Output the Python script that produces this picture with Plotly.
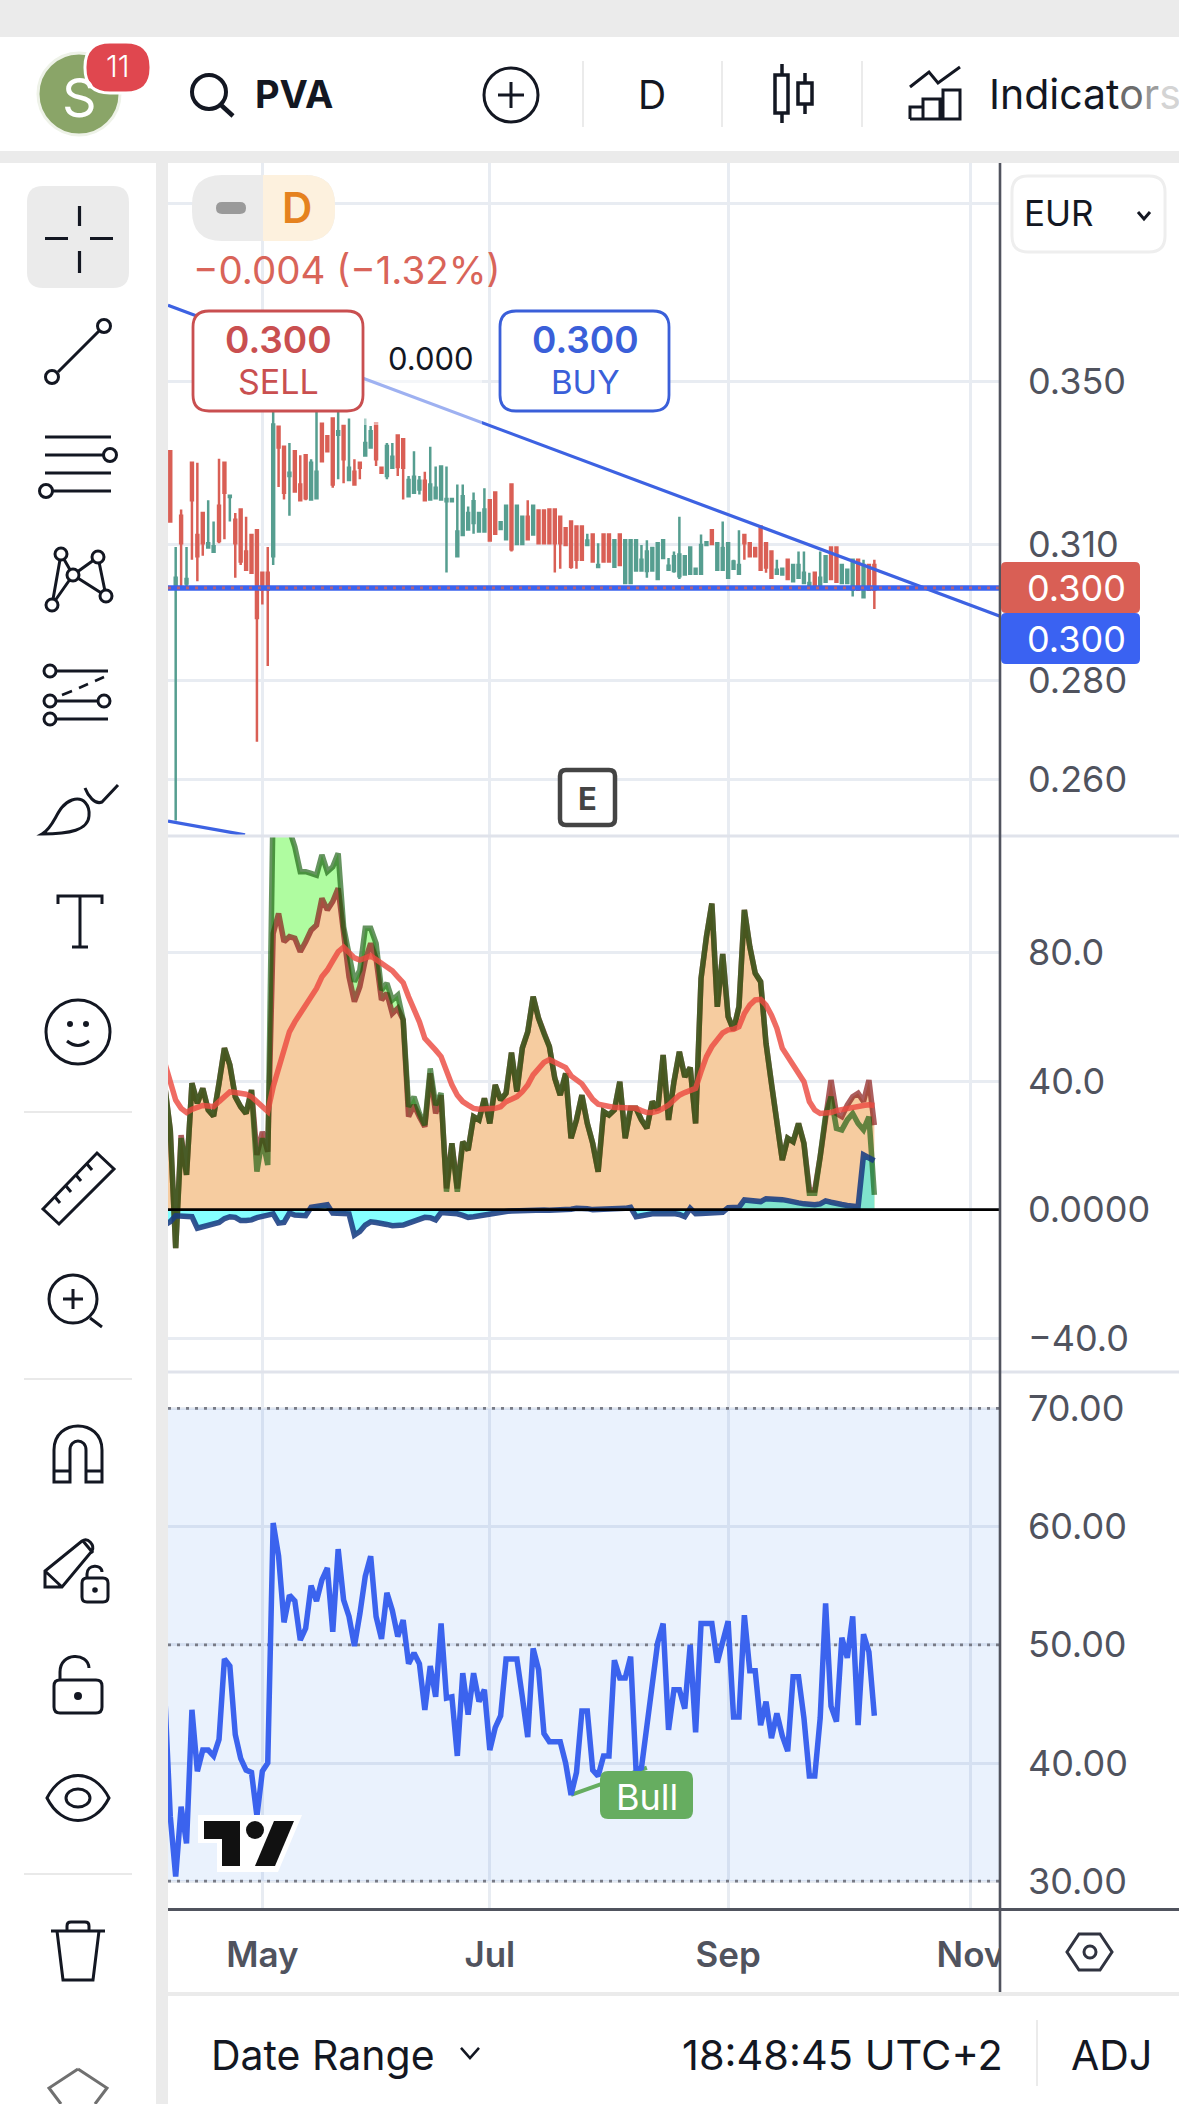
import math
import re
import plotly.graph_objects as go

W, H = 1179, 2104
FONT = "Inter"
INK = "#131722"
AXIS_TXT = "#50535e"
GRID = "#e8ecf2"
BLUE = "#3b63ee"
RED = "#d95f55"
TEAL = "#569e90"

# ---- daily candles, bar 0 .. 130
opens = [
    .3323,.3000,.3166,.3010,.3294,.3121,.3173,.3092,.3082,.3190,
    .3294,.3211,.3157,.3181,.3083,.3121,.3132,.3034,.3034,.3072,
    .3384,.3334,.3262,.3323,.3241,.3313,.3205,.3208,.3392,.3360,
    .3405,.3364,.3386,.3252,.3272,.3294,.3312,.3332,.3393,.3282,
    .3262,.3282,.3362,.3353,.3213,.3221,.3229,.3250,.3205,.3208,
    .3205,.3201,.3201,.3072,.3121,.3134,.3149,.3129,.3129,.3203,
    .3222,.3135,.3111,.3241,.3100,.3100,.3164,.3122,.3179,.3179,
    .3181,.3181,.3164,.3137,.3153,.3141,.3141,.3098,.3122,.3047,
    .3122,.3122,.3048,.3122,.3011,.3011,.3039,.3039,.3038,.3039,
    .3020,.3068,.3041,.3038,.3026,.3030,.3032,.3032,.3032,.3098,
    .3132,.3041,.3041,.3023,.3043,.3032,.3121,.3102,.3091,.3141,
    .3102,.3083,.3032,.3030,.3064,.3015,.3023,.3011,.3000,.3034,
    .3000,.3014,.3092,.3092,.3011,.3011,.2996,.3064,.2979,.3052,.3052]
highs = [
    .3323,.3093,.3181,.3093,.3294,.3294,.3173,.3203,.3153,.3304,
    .3294,.3214,.3173,.3181,.3164,.3121,.3132,.3034,.3093,.3424,
    .3384,.3334,.3343,.3323,.3313,.3313,.3303,.3424,.3392,.3360,
    .3405,.3424,.3386,.3405,.3303,.3294,.3405,.3386,.3393,.3282,
    .3343,.3343,.3362,.3353,.3262,.3323,.3262,.3272,.3334,.3285,
    .3285,.3285,.3208,.3241,.3241,.3188,.3222,.3173,.3232,.3203,
    .3222,.3153,.3190,.3241,.3190,.3164,.3203,.3192,.3181,.3181,
    .3181,.3181,.3164,.3137,.3153,.3141,.3141,.3124,.3122,.3102,
    .3122,.3122,.3109,.3122,.3109,.3109,.3109,.3098,.3109,.3091,
    .3102,.3109,.3068,.3083,.3164,.3072,.3092,.3043,.3122,.3104,
    .3132,.3102,.3153,.3102,.3064,.3132,.3121,.3102,.3091,.3141,
    .3102,.3083,.3064,.3043,.3064,.3052,.3083,.3083,.3034,.3034,
    .3083,.3072,.3092,.3092,.3052,.3041,.3064,.3064,.3064,.3052,.3064]
lows = [
    .3153,.2521,.3000,.3000,.3064,.3015,.3073,.3092,.3082,.3102,
    .3111,.3153,.3023,.3052,.3041,.3034,.2674,.2963,.2830,.3052,
    .3235,.3205,.3166,.3224,.3203,.3203,.3205,.3205,.3298,.3323,
    .3233,.3254,.3244,.3252,.3241,.3254,.3312,.3332,.3286,.3270,
    .3254,.3282,.3262,.3205,.3213,.3221,.3217,.3203,.3205,.3208,
    .3205,.3035,.3201,.3072,.3121,.3134,.3124,.3129,.3129,.3108,
    .3124,.3135,.3111,.3083,.3100,.3100,.3111,.3122,.3102,.3102,
    .3102,.3035,.3043,.3098,.3043,.3043,.3064,.3098,.3060,.3047,
    .3060,.3060,.3048,.3052,.3011,.3011,.3039,.3039,.3023,.3039,
    .3020,.3068,.3041,.3034,.3020,.3030,.3032,.3032,.3032,.3098,
    .3100,.3041,.3041,.3023,.3043,.3032,.3064,.3072,.3072,.3041,
    .3034,.3023,.3032,.3030,.3020,.3015,.3023,.3011,.2996,.3000,
    .3000,.3014,.3020,.3014,.3011,.3011,.2981,.2996,.2979,.2996,.2953]
closes = [
    .3153,.3023,.3102,.3020,.3203,.3072,.3102,.3102,.3095,.3107,
    .3221,.3214,.3102,.3060,.3041,.3034,.2933,.2996,.2996,.3390,
    .3332,.3221,.3270,.3224,.3203,.3208,.3294,.3272,.3298,.3323,
    .3241,.3373,.3303,.3282,.3241,.3282,.3343,.3373,.3303,.3270,
    .3336,.3309,.3284,.3282,.3252,.3260,.3250,.3203,.3241,.3233,
    .3285,.3206,.3206,.3129,.3213,.3173,.3201,.3173,.3181,.3108,
    .3124,.3151,.3190,.3088,.3190,.3164,.3111,.3190,.3102,.3102,
    .3102,.3102,.3102,.3098,.3048,.3064,.3064,.3108,.3060,.3052,
    .3060,.3060,.3109,.3052,.3109,.3109,.3109,.3064,.3083,.3091,
    .3102,.3109,.3050,.3072,.3076,.3072,.3092,.3043,.3098,.3104,
    .3100,.3102,.3091,.3102,.3060,.3052,.3102,.3072,.3072,.3041,
    .3046,.3023,.3041,.3043,.3020,.3052,.3052,.3034,.3011,.3000,
    .3023,.3072,.3020,.3014,.3052,.3041,.3064,.2996,.3052,.2996,.2996]
assert len(opens) == len(highs) == len(lows) == len(closes) == 131

# ---- oscillator pane, bar -1 .. 130
upper_osc = [
    38.2,24.8,-12.0,22.2,10.8,39.3,33.1,37.7,31.0,29.1,39.3,50.2,45.0,35.1,32.0,29.9,37.2,11.8,22.2,13.9,
    128.4,124.2,121.1,118.0,112.8,105.1,105.1,104.6,104.0,110.3,105.1,106.6,110.8,88.0,78.7,70.9,74.5,87.5,87.5,82.8,
    68.3,70.4,65.2,66.7,59.0,32.0,35.1,29.9,26.3,43.9,32.5,36.2,5.6,20.6,5.6,21.1,18.5,28.9,27.9,34.6,
    26.8,38.8,34.1,36.2,48.8,36.7,50.2,55.3,66.2,59.5,54.8,50.7,40.8,35.6,42.4,22.2,27.9,35.6,26.8,20.6,
    11.8,30.5,29.4,31.0,39.8,22.2,31.5,31.5,27.9,25.3,33.6,31.0,48.1,27.9,39.8,49.1,41.3,44.2,26.8,71.9,
    84.9,95.2,63.1,79.5,60.0,55.9,63.1,93.2,81.8,73.5,70.9,51.7,39.3,26.8,15.4,22.2,21.1,26.8,20.6,5.1,
    5.1,16.5,29.4,35.1,25.3,24.8,27.9,29.9,26.8,24.8,28.9,4.6]
lower_osc = [
    38.2,24.8,-12.0,23.2,10.8,39.3,33.1,37.7,31.0,29.1,39.3,50.2,45.0,35.1,32.0,29.9,37.2,17.0,24.2,18.0,
    85.9,92.1,83.3,84.9,84.4,80.2,83.3,86.9,88.5,96.8,93.2,95.8,99.9,86.9,72.4,64.7,69.3,77.6,82.8,78.1,
    65.2,67.3,61.0,62.6,59.0,28.9,32.5,28.9,25.8,42.4,29.9,35.6,6.6,20.6,6.6,21.1,18.5,28.9,27.9,34.6,
    26.8,38.8,34.1,36.2,48.8,36.7,50.2,55.3,66.2,59.5,54.8,50.7,40.8,35.6,42.4,22.2,27.9,35.6,26.8,20.6,
    11.8,30.5,29.4,31.0,39.8,22.2,31.5,31.5,27.9,25.3,33.6,31.0,48.1,27.9,39.8,49.1,41.3,44.2,26.8,71.9,
    84.9,95.2,63.1,79.5,60.0,55.9,63.1,93.2,81.8,73.5,70.9,51.7,39.3,26.8,15.4,22.2,21.1,26.8,20.6,6.1,
    6.1,16.5,29.9,40.3,29.9,28.9,32.5,35.1,36.2,33.6,40.3,26.3]
smooth_osc = [
    45.5,39.3,34.1,31.5,30.2,31.2,31.8,32.4,32.2,32.0,33.6,35.4,36.6,36.4,36.2,35.9,35.1,33.6,31.8,30.5,
    38.2,43.9,48.6,55.3,58.4,61.0,63.6,65.7,68.8,72.4,74.5,77.4,80.2,81.6,79.7,78.3,77.6,78.4,78.9,77.8,
    76.8,75.5,74.3,72.4,70.6,66.2,62.6,58.4,53.3,51.7,49.6,47.6,42.9,38.8,35.6,33.6,32.5,31.5,31.2,31.2,
    31.2,31.5,32.0,33.6,34.3,35.1,36.7,38.8,41.9,43.9,45.8,46.7,45.8,45.0,44.2,41.6,40.1,39.1,36.7,34.3,
    32.8,32.4,32.0,31.8,31.8,31.6,31.6,31.5,30.8,30.2,30.2,30.6,31.5,32.5,34.1,35.6,36.4,37.0,37.7,42.9,
    47.6,50.7,52.7,55.0,55.9,56.1,56.9,61.0,63.6,65.2,65.4,63.6,60.5,56.4,50.2,47.4,45.0,42.4,39.8,33.6,
    31.0,29.9,29.9,30.2,30.8,31.2,31.5,31.8,32.1,32.4,32.6,32.4]
momentum = [
    -4.8,-3.7,-1.9,-2.0,-2.2,-2.2,-5.8,-5.3,-4.9,-4.5,-4.0,-2.8,-2.2,-2.4,-3.4,-3.4,-3.2,-2.5,-1.9,-1.7,
    -1.3,-4.2,-4.0,-1.1,-1.7,-2.0,-1.9,0.7,1.1,1.5,1.5,-1.1,-1.1,-1.1,-1.3,-7.9,-6.8,-4.8,-3.8,-4.0,
    -4.5,-4.6,-5.0,-5.1,-4.8,-4.2,-3.7,-3.0,-2.4,-2.5,-3.2,-0.9,-1.0,-1.1,-1.3,-1.8,-2.4,-2.2,-1.9,-1.5,
    -1.1,-0.9,-0.8,-0.6,-0.4,-0.3,-0.2,-0.1,-0.1,-0.1,-0.1,-0.2,-0.2,-0.2,-0.1,0.1,0.4,0.5,0.3,0.0,
    0.0,0.0,0.0,0.0,0.3,0.4,0.7,-2.2,-1.9,-1.5,-1.3,-1.3,-1.2,-1.1,-1.2,-1.5,-2.2,0.4,-1.3,-1.2,
    -1.1,-1.0,-0.9,-0.8,0.6,0.6,0.7,3.0,2.7,2.4,2.5,3.4,3.4,3.5,3.1,2.8,2.3,2.1,1.8,1.6,
    1.5,1.8,2.7,2.3,1.8,1.6,1.3,1.0,0.9,17.0,16.3,15.2]

# ---- RSI pane, bar -1 .. 130
rsi = [
    45.6,35.5,30.4,36.3,33.2,44.5,39.3,41.1,41.1,40.6,42.0,48.8,48.2,42.4,40.4,39.4,39.2,35.5,39.3,40.0,
    60.3,57.5,51.9,54.2,53.7,50.4,51.4,55.0,53.7,55.5,56.5,51.1,58.1,53.8,52.4,49.9,52.6,55.8,57.5,52.4,
    50.5,54.4,52.9,50.7,52.1,48.4,49.3,48.4,44.5,48.2,45.6,51.8,45.5,45.6,40.6,47.6,44.1,47.6,45.2,46.2,
    41.1,43.0,44.0,48.8,48.8,48.8,45.6,42.2,49.7,47.9,42.5,41.8,41.8,41.8,40.0,37.3,39.2,44.4,44.4,39.4,
    38.9,40.6,40.6,48.7,47.2,47.2,49.0,39.4,39.6,43.1,46.9,50.2,51.8,42.8,46.2,46.2,44.6,50.0,42.6,51.8,
    51.8,51.8,48.5,50.2,52.0,43.9,43.9,52.5,47.8,47.8,43.2,45.2,42.1,44.2,42.3,41.0,47.3,47.3,43.8,38.9,
    38.9,43.8,53.5,44.8,43.5,50.6,48.9,52.4,43.2,50.9,49.4,44.0]

# ---- drawn levels and axis labels
bar_index = list(range(len(opens)))
osc_index = list(range(-1, len(upper_osc) - 1))
rsi_index = list(range(-1, len(rsi) - 1))
assert len(upper_osc) == len(lower_osc) == len(smooth_osc) == len(momentum) == len(rsi) == 132

last_price = 0.300
trend_prices = [0.3706, 0.2937]
support_prices = [0.2520, 0.2494]
divergence_bars = [74, 88]
divergence_rsi = [37.3, 39.6]
price_ticks = [0.400, 0.350, 0.310, 0.280, 0.260]
price_labels = ["", "0.350", "0.310", "0.280", "0.260"]
osc_ticks = [80, 40, 0, -40]
osc_labels = ["80.0", "40.0", "0.0000", "\u221240.0"]
rsi_ticks = [70, 60, 50, 40, 30]
rsi_labels = ["70.00", "60.00", "50.00", "40.00", "30.00"]
month_ticks = [17, 59, 103, 147.75]
month_labels = ["May", "Jul", "Sep", "Nov"]

X_RANGE = [-0.42, 153.2]


def X(x):
    return x / W


def Y(y):
    return 1 - y / H


def path(d):
    """Convert an SVG path in page pixels into figure coordinates."""
    parts = re.findall(r"[MLCQZ]|-?\d+\.?\d*", d)
    out, pair = [], []
    for p in parts:
        if p in "MLCQZ":
            out.append(p)
        else:
            pair.append(float(p))
            if len(pair) == 2:
                out.append(f"{X(pair[0]):.5f},{Y(pair[1]):.5f}")
                pair = []
    return " ".join(out)


shapes, notes = [], []


def area(x0, y0, x1, y1, color, layer="above"):
    shapes.append(dict(type="rect", xref="paper", yref="paper", x0=X(x0), x1=X(x1),
                       y0=Y(y0), y1=Y(y1), fillcolor=color, line_width=0, layer=layer))


def rrect(x0, y0, x1, y1, r, fill="rgba(0,0,0,0)", line=None, lw=0, layer="above"):
    d = (f"M{x0+r} {y0} L{x1-r} {y0} Q{x1} {y0} {x1} {y0+r} L{x1} {y1-r} Q{x1} {y1} {x1-r} {y1} "
         f"L{x0+r} {y1} Q{x0} {y1} {x0} {y1-r} L{x0} {y0+r} Q{x0} {y0} {x0+r} {y0} Z")
    shapes.append(dict(type="path", xref="paper", yref="paper", path=path(d), fillcolor=fill,
                       line=dict(color=line or "rgba(0,0,0,0)", width=lw), layer=layer))


def stroke(d, width=3, color=INK, fill="rgba(0,0,0,0)"):
    shapes.append(dict(type="path", xref="paper", yref="paper", path=path(d), fillcolor=fill,
                       line=dict(color=color, width=width), layer="above"))


def ring(cx, cy, r, width=3, color=INK, fill="rgba(0,0,0,0)", ry=None):
    ry = ry or r
    shapes.append(dict(type="circle", xref="paper", yref="paper", x0=X(cx-r), x1=X(cx+r),
                       y0=Y(cy-ry), y1=Y(cy+ry), fillcolor=fill,
                       line=dict(color=color, width=width), layer="above"))


def label(x, y, text, size, color=INK, anchor="center", weight=400):
    notes.append(dict(x=X(x), y=Y(y), xref="paper", yref="paper", text=text, showarrow=False,
                      xanchor=anchor, yanchor="middle",
                      font=dict(family=FONT, size=size, color=color, weight=weight)))


# ---- page frame
area(0, 37, W, 151, "white", "below")
area(0, 163, 156, H, "white", "below")
area(168, 163, W, H, "white", "below")

# ---- chart traces
fig = go.Figure()
fig.add_trace(go.Candlestick(
    x=bar_index, open=opens, high=highs, low=lows, close=closes,
    increasing=dict(line=dict(color=TEAL, width=2.5), fillcolor=TEAL),
    decreasing=dict(line=dict(color=RED, width=2.5), fillcolor=RED),
    xaxis="x", yaxis="y", showlegend=False))
for prices, xs in ((trend_prices, X_RANGE), (support_prices, [-0.42, 13.8])):
    fig.add_trace(go.Scatter(x=xs, y=prices, mode="lines", xaxis="x", yaxis="y",
                             line=dict(color="#3d62e2", width=3.2)))
fig.add_trace(go.Scatter(x=X_RANGE, y=[last_price, last_price], mode="lines", xaxis="x", yaxis="y",
                         line=dict(color=BLUE, width=5.5)))
fig.add_trace(go.Scatter(x=X_RANGE, y=[last_price, last_price], mode="lines", xaxis="x", yaxis="y",
                         line=dict(color="rgba(222,95,85,0.75)", width=2.8, dash="3px,6px")))

fig.add_trace(go.Scatter(x=osc_index, y=upper_osc, mode="none", fill="tozeroy",
                         fillcolor="rgb(175,252,160)", xaxis="x", yaxis="y2"))
fig.add_trace(go.Scatter(x=osc_index, y=lower_osc, mode="none", fill="tozeroy",
                         fillcolor="rgb(246,204,160)", xaxis="x", yaxis="y2"))
fig.add_trace(go.Scatter(x=osc_index, y=momentum, mode="none", fill="tozeroy",
                         fillcolor="rgba(0,255,255,0.48)", xaxis="x", yaxis="y2"))
fig.add_trace(go.Scatter(x=osc_index, y=lower_osc, mode="lines", xaxis="x", yaxis="y2",
                         line=dict(color="rgba(135,26,26,0.7)", width=5.5)))
fig.add_trace(go.Scatter(x=osc_index, y=upper_osc, mode="lines", xaxis="x", yaxis="y2",
                         line=dict(color="rgba(20,90,10,0.65)", width=5.5)))
fig.add_trace(go.Scatter(x=osc_index, y=smooth_osc, mode="lines", xaxis="x", yaxis="y2",
                         line=dict(color="rgba(235,75,65,0.82)", width=5.5)))
fig.add_trace(go.Scatter(x=osc_index, y=momentum, mode="lines", xaxis="x", yaxis="y2",
                         line=dict(color="rgba(25,60,130,0.88)", width=5.5)))
fig.add_trace(go.Scatter(x=X_RANGE, y=[0, 0], mode="lines", xaxis="x", yaxis="y2",
                         line=dict(color="black", width=2.8)))

fig.add_trace(go.Scatter(x=divergence_bars, y=divergence_rsi, mode="lines", xaxis="x", yaxis="y3",
                         line=dict(color="#66ad60", width=4)))
fig.add_trace(go.Scatter(x=rsi_index, y=rsi, mode="lines", xaxis="x", yaxis="y3",
                         line=dict(color=BLUE, width=5.5)))

# RSI band and its dotted limits
shapes.append(dict(type="rect", xref="x", yref="y3", x0=X_RANGE[0], x1=X_RANGE[1], y0=30, y1=70,
                   fillcolor="rgba(20,110,230,0.09)", line_width=0, layer="between"))
for level in (70, 50, 30):
    shapes.append(dict(type="line", xref="x", yref="y3", x0=X_RANGE[0], x1=X_RANGE[1], y0=level, y1=level,
                       line=dict(color="#787b86", width=2.8, dash="3px,6px"), layer="between"))

# button backing that hides grid lines behind the order buttons
area(363, 311, 680, 411, "white", "between")

# pane dividers and scale frame
area(168, 834.5, W, 837.5, "#e0e3eb")
area(168, 1370.5, W, 1373.5, "#e0e3eb")
area(1000.5, 1909, W, 1992, "white")
area(168, 1908, W, 1911, "#50535e")
area(998.7, 163, 1001.3, 1992, "#50535e")
area(168, 1992, W, 1996, "#ebebeb")

# price tags
rrect(1001, 562, 1140, 613, 5, fill=RED)
rrect(1001, 613, 1140, 664, 5, fill="#3a62f2")
label(1076, 588, "0.300", 36, "white")
label(1076, 639, "0.300", 36, "white")

# pale cover where the trend line fades beside the button
area(363, 372, 482, 425, "rgba(255,255,255,0.5)")

# legend chip and change readout
rrect(192, 175, 335, 241, 30, fill="#ebebeb")
d = "M263 175 L305 175 Q335 175 335 205 L335 211 Q335 241 305 241 L263 241 Z"
shapes.append(dict(type="path", xref="paper", yref="paper", path=path(d), fillcolor="#fdf1de",
                   line=dict(color="rgba(0,0,0,0)", width=0), layer="above"))
rrect(216, 202, 246, 214, 6, fill="#9a9a9a")
label(297, 208, "D", 42, "#e5821f", weight=600)
label(191, 270, "\u22120.004 (\u22121.32%)", 38.5, "#d96459", anchor="left")

# order buttons
rrect(193, 311, 363, 411, 16, fill="white", line="#c94f50", lw=2.8)
rrect(500, 311, 669, 411, 16, fill="white", line="#3a5fd9", lw=2.8)
label(278, 339, "0.300", 37, "#c94f50", weight=600)
label(278, 382, "SELL", 34, "#c94f50")
label(585, 339, "0.300", 37, "#3a5fd9", weight=600)
label(585, 382, "BUY", 33, "#3a5fd9")
label(431, 359, "0.000", 31, "#131722")

# currency selector
rrect(1012, 176, 1165, 252, 16, fill="white", line="#eeeeee", lw=3)
label(1059, 213, "EUR", 35)
stroke("M1138 212 L1144 219 L1150 212", 3)

# earnings marker
rrect(560, 770, 615, 825, 6, fill="white", line="#444444", lw=4.5)
label(587, 798, "E", 31, "#444444", weight=700)

# exchange mark on the RSI pane
shapes.append(dict(type="path", xref="paper", yref="paper",
                   path=path("M198 1815 L302 1815 L278 1872 L217 1872 L217 1843 L198 1843 Z"),
                   fillcolor="white", line_width=0, layer="above"))
shapes.append(dict(type="path", xref="paper", yref="paper",
                   path=path("M204 1821 L240 1821 L240 1866 L222 1866 L222 1839 L204 1839 Z"),
                   fillcolor="#111111", line_width=0, layer="above"))
shapes.append(dict(type="path", xref="paper", yref="paper",
                   path=path("M294 1821 L275 1866 L255 1866 L274 1821 Z"),
                   fillcolor="#111111", line_width=0, layer="above"))
ring(255, 1830, 9, 0, "#111111", "#111111")

# divergence tag
rrect(600, 1771, 693, 1819, 8, fill="#66ad60")
label(647, 1797, "Bull", 36, "white")

# bottom-right scale settings
stroke("M1079 1934 L1100 1934 L1112 1952 L1100 1970 L1079 1970 L1067 1952 Z", 3, "#303340")
ring(1090, 1952, 6, 3, "#303340")

# top bar
ring(79, 94, 41, 3, "#eef2e8", "#8aa568")
label(79, 97, "S", 54, "white", weight=400)
rrect(85, 42, 151, 93, 25, fill="#e0474f", line="white", lw=3)
label(118, 66, "11", 30, "white", weight=300)
ring(209, 92, 17, 4)
stroke("M221 105 L233 116", 4.5)
label(253, 94, "PVA", 38, INK, anchor="left", weight=700)
ring(511, 95, 27, 3)
stroke("M511 82 L511 108 M498 95 L524 95", 3)
label(652, 94, "D", 39)
for sx in (583, 722, 862):
    area(sx - 1, 61, sx + 1, 127, "#ebebeb")
stroke("M782 64 L782 75 M782 113 L782 123 M805 73 L805 83 M805 104 L805 114", 3.5)
stroke("M775 75 L788 75 L788 113 L775 113 Z", 3.5)
stroke("M798 83 L812 83 L812 104 L798 104 Z", 3.5)
stroke("M910 87 L929 72 L938 83 L960 67", 3)
stroke("M910 119 L960 119 L960 90 L943 90 L943 119 M940 119 L940 99 L923 99 L923 119 M910 119 L910 107 L923 107", 3)
notes.append(dict(x=X(987), y=Y(94), xref="paper", yref="paper", showarrow=False, xanchor="left", yanchor="middle",
                  text="Indicat<span style='color:#6c6c6c'>o</span><span style='color:#9c9c9c'>r</span>"
                       "<span style='color:#d4d4d4'>s</span>",
                  font=dict(family=FONT, size=41, color=INK)))

# drawing tools, top group
rrect(27, 186, 129, 288, 16, fill="#ebebeb")
stroke("M45 238.5 L68 238.5 M90 238.5 L113 238.5 M79.5 206 L79.5 226 M79.5 251 L79.5 273", 3.2)
stroke("M58 372 L99 331", 3)
ring(52, 377, 6.5, 3)
ring(104, 326, 6.5, 3)
stroke("M45 437 L111 437 M45 455 L103 455 M45 473 L111 473 M53 491 L111 491", 3)
ring(110, 455, 6.5, 3)
ring(46, 491, 6.5, 3)
stroke("M61 554 L73 575 M61 554 L52 605 M52 605 L73 575 M73 575 L98 557 M98 557 L106 596 M73 575 L106 596", 3)
for cx, cy in ((61, 554), (98, 557), (73, 575), (52, 605), (106, 596)):
    ring(cx, cy, 6, 3, fill="white")
stroke("M57 671 L108 671 M57 701 L98 701 M57 719 L108 719", 3)
stroke("M62 695 L72 691 M79 688 L88 684 M95 681 L104 677", 2.6)
ring(50, 671, 6, 3)
ring(50, 701, 6, 3)
ring(50, 719, 6, 3)
ring(104, 701, 6, 3)
stroke("M42 834 C56 826 56 806 72 800 C84 796 90 806 89 816 C88 830 70 834 42 834 Z", 3)
stroke("M85 788 C88 796 95 805 102 802 L118 785", 3)
stroke("M58 904 L58 896 L102 896 L102 904 M80 896 L80 947 M72 947 L88 947", 3)
ring(78, 1032, 32, 3)
ring(70, 1024, 2, 2, fill=INK)
ring(86, 1024, 2, 2, fill=INK)
stroke("M67 1041 Q78 1050 89 1041", 3)
area(24, 1111, 132, 1113, "#e9e9e9")

# measure and zoom
stroke("M43 1209 L97 1153 L114 1169 L59 1224 Z", 3)
stroke("M55 1197 L60 1203 M66 1186 L71 1192 M76 1175 L81 1181 M87 1164 L92 1170", 3)
ring(73, 1299, 24, 3)
stroke("M73 1289 L73 1309 M63 1299 L83 1299 M90 1318 L102 1327", 3)
area(24, 1378, 132, 1380, "#e9e9e9")

# magnet, locks, eye
stroke("M54 1482 L54 1450 C54 1418 102 1418 102 1450 L102 1482 L86 1482 L86 1450 C86 1438 70 1438 70 1450 L70 1482 Z", 3)
stroke("M54 1471 L70 1471 M86 1471 L102 1471", 3)
stroke("M45 1587 L45 1571 L82 1541 C88 1537 95 1545 92 1551 L62 1587 Z M45 1571 L62 1587 M83 1541 L93 1553", 3)
rrect(82, 1578, 108, 1602, 5, fill="white", line=INK, lw=3)
stroke("M87 1578 L87 1574 C87 1564 102 1564 102 1572", 3)
ring(95, 1590, 1.8, 2, fill=INK)
rrect(54, 1680, 102, 1713, 6, line=INK, lw=3)
stroke("M60 1680 L60 1672 C60 1652 88 1652 89 1668", 3)
ring(78, 1696, 3, 2, fill=INK)
stroke("M47 1798 C62 1768 94 1768 109 1798 C94 1828 62 1828 47 1798 Z", 3)
ring(78, 1798, 12, 3, ry=9)
area(24, 1873, 132, 1875, "#e9e9e9")
stroke("M51 1931 L105 1931 M67 1931 L67 1926 Q67 1922 71 1922 L85 1922 Q89 1922 89 1926 L89 1931", 3)
stroke("M57 1931 L63 1980 L93 1980 L99 1931", 3)
stroke("M78 2069 L107 2088 L95 2104 M78 2069 L49 2088 L61 2104", 3, "#707070")

# footer
label(209, 2055, "Date Range", 41, anchor="left")
stroke("M461 2048 L470 2058 L479 2048", 2.6)
label(680, 2055, "18:48:45 UTC+2", 41.5, anchor="left")
area(1036, 2020, 1038, 2086, "#ebebeb")
label(1069, 2055, "ADJ", 41, anchor="left")


def side_axis(domain, ticks, labels, **extra):
    return dict(domain=[Y(domain[1]), Y(domain[0])], side="right", anchor="x", tickmode="array",
                tickvals=ticks, ticktext=labels, showgrid=True, gridcolor=GRID, gridwidth=2.8,
                zeroline=False, showline=False, ticks="", ticklabelstandoff=27, automargin=False,
                tickfont=dict(family=FONT, size=36, color=AXIS_TXT), **extra)


fig.update_layout(
    width=W, height=H, autosize=False, margin=dict(l=0, r=0, t=0, b=0),
    paper_bgcolor="#ebebeb", plot_bgcolor="rgba(0,0,0,0)", showlegend=False,
    boxgap=0.5, hovermode=False, shapes=shapes, annotations=notes,
    xaxis=dict(domain=[X(168), X(1000)], range=X_RANGE, anchor="y3", rangeslider=dict(visible=False),
               tickmode="array", tickvals=month_ticks, ticktext=month_labels, showgrid=True, automargin=False,
               gridcolor=GRID, gridwidth=2.8, zeroline=False, showline=False, ticks="", ticklabelstandoff=22,
               tickfont=dict(family=FONT, size=35, color=AXIS_TXT, weight=600)),
    yaxis=side_axis((163, 836), price_ticks, price_labels, type="log",
                    range=[math.log10(0.2492), math.log10(0.4122)]),
    yaxis2=side_axis((836, 1372), osc_ticks, osc_labels, range=[-50.5, 116.2]),
    yaxis3=side_axis((1372, 1909), rsi_ticks, rsi_labels, range=[27.65, 73.08]),
)

# keep text that runs past the right edge from widening the page
CLIP_PAGE = ("document.documentElement.style.overflow='hidden';document.body.style.overflow='hidden';"
             "document.querySelectorAll('.main-svg').forEach(function(s){s.style.overflow='hidden';});"
             "document.querySelectorAll('.plotly-graph-div,.svg-container').forEach(function(s){s.style.overflow='hidden';});")
fig.write_html("out.html", post_script=CLIP_PAGE)
